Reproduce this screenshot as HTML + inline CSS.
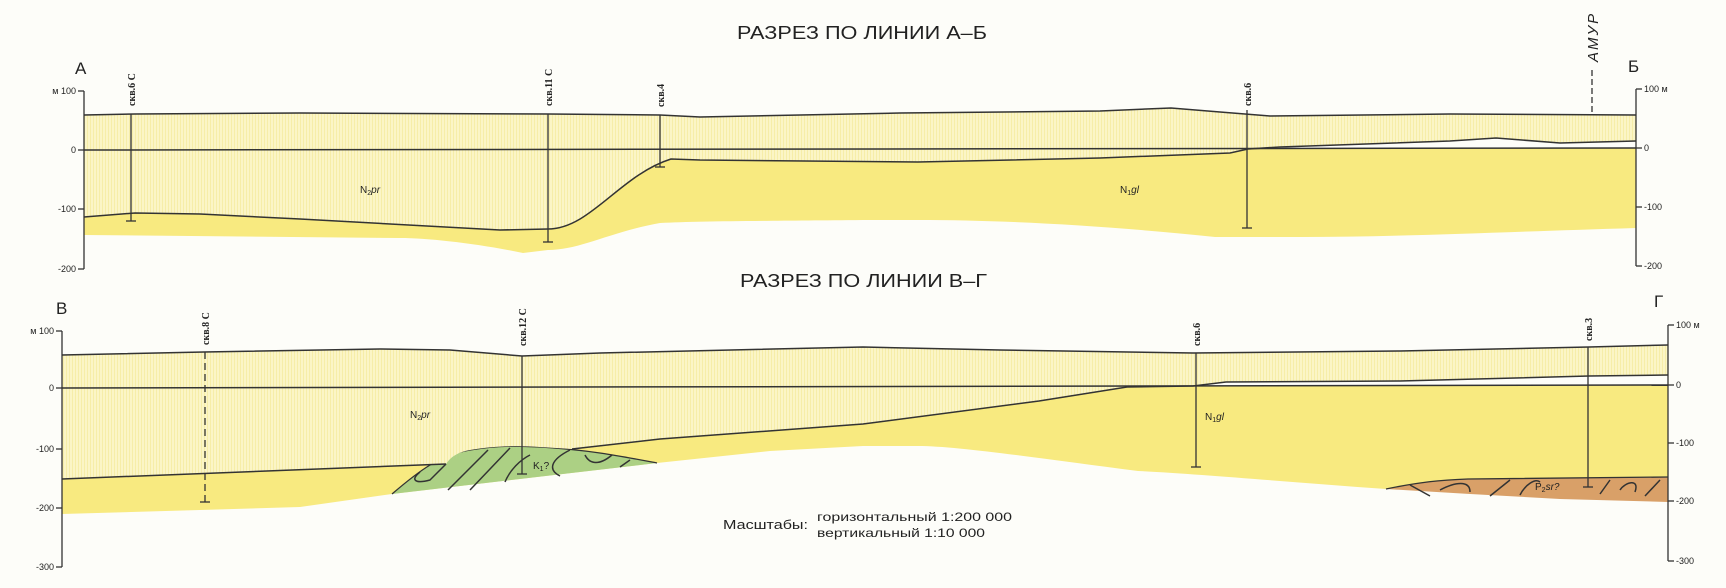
<!DOCTYPE html>
<html><head><meta charset="utf-8"><style>
html,body{margin:0;padding:0;background:#fdfdf9}
svg{display:block}
.t{font-family:"Liberation Sans",sans-serif;font-size:9px;fill:#222}
.w{font-family:"Liberation Serif",serif;font-size:10px;font-weight:bold;fill:#222}
.ln{fill:none;stroke:#333;stroke-width:1.5}
</style></head><body>
<svg width="1726" height="588" viewBox="0 0 1726 588" xmlns="http://www.w3.org/2000/svg">
<defs>
<pattern id="st" width="3" height="10" patternUnits="userSpaceOnUse">
<rect width="3" height="10" fill="#fbf5c6"/><rect width="1" height="10" fill="#f6eda8"/>
</pattern>
</defs>
<rect width="1726" height="588" fill="#fdfdf9"/>
<!-- TOP SECTION -->
<text x="737" y="39" font-family="Liberation Sans,sans-serif" font-size="18" fill="#222" textLength="250" lengthAdjust="spacingAndGlyphs">РАЗРЕЗ ПО ЛИНИИ А–Б</text>
<path d="M84,150 L1636,148 L1636,228 C1500,232 1400,237 1300,237 L1215,237 C1100,225 1000,220 918,220 L863,220 C760,221 700,221 660,223 C610,232 580,250 548,250 L523,253 C480,244 430,238 400,238 L84,235 Z" fill="#f8ea80"/>
<path d="M84,115 L135,114 L300,113 L548,114 L660,115 L700,117 L900,113 L1100,111 L1171,108 L1220,112 L1270,116 L1450,114 L1632,115 L1636,115 L1636,141 L1560,143 L1496,138 L1450,141 L1280,147 L1248,149 L1230,153 L1100,158 L918,162 L700,160 L671,159 C620,175 590,229 548,229 L500,230 L300,219 L200,214 L135,213 L84,217 Z" fill="url(#st)"/>
<path class="ln" d="M84,115 L135,114 L300,113 L548,114 L660,115 L700,117 L900,113 L1100,111 L1171,108 L1220,112 L1270,116 L1450,114 L1636,115"/>
<path class="ln" d="M84,217 L135,213 L200,214 L300,219 L500,230 L548,229 C590,229 620,175 671,159 L700,160 L918,162 L1100,158 L1230,153 L1248,149 L1280,147 L1450,141 L1496,138 L1560,143 L1636,141"/>
<line class="ln" x1="84" y1="150" x2="1636" y2="148"/>
<g stroke="#333" stroke-width="1.3">
<line x1="84" y1="91" x2="84" y2="269"/>
<line x1="78" y1="91" x2="84" y2="91"/><line x1="78" y1="150" x2="84" y2="150"/><line x1="78" y1="209" x2="84" y2="209"/><line x1="78" y1="269" x2="84" y2="269"/>
<line x1="1636" y1="89" x2="1636" y2="266"/>
<line x1="1636" y1="89" x2="1642" y2="89"/><line x1="1636" y1="148" x2="1642" y2="148"/><line x1="1636" y1="207" x2="1642" y2="207"/><line x1="1636" y1="266" x2="1642" y2="266"/>
</g>
<text class="t" x="76" y="94" text-anchor="end">м 100</text>
<text class="t" x="76" y="153" text-anchor="end">0</text>
<text class="t" x="76" y="212" text-anchor="end">-100</text>
<text class="t" x="76" y="272" text-anchor="end">-200</text>
<text class="t" x="1644" y="92">100 м</text>
<text class="t" x="1644" y="151">0</text>
<text class="t" x="1644" y="210">-100</text>
<text class="t" x="1644" y="269">-200</text>
<text x="75" y="74" font-family="Liberation Sans,sans-serif" font-size="17" fill="#222">А</text>
<text x="1628" y="72" font-family="Liberation Sans,sans-serif" font-size="17" fill="#222">Б</text>
<g stroke="#333" stroke-width="1.3">
<line x1="131" y1="114" x2="131" y2="221"/><line x1="126" y1="221" x2="136" y2="221"/>
<line x1="548" y1="114" x2="548" y2="242"/><line x1="543" y1="242" x2="553" y2="242"/>
<line x1="660" y1="115" x2="660" y2="167"/><line x1="655" y1="167" x2="665" y2="167"/>
<line x1="1247" y1="110" x2="1247" y2="228"/><line x1="1242" y1="228" x2="1252" y2="228"/>
<line x1="1592" y1="70" x2="1592" y2="115" stroke-dasharray="6,3"/>
</g>
<text class="w" transform="translate(135,106) rotate(-90)">скв.6 С</text>
<text class="w" transform="translate(552,106) rotate(-90)">скв.11 С</text>
<text class="w" transform="translate(664,107) rotate(-90)">скв.4</text>
<text class="w" transform="translate(1251,106) rotate(-90)">скв.6</text>
<text transform="translate(1598,62) rotate(-90)" font-family="Liberation Sans,sans-serif" font-size="15" font-style="italic" fill="#222" letter-spacing="2">АМУР</text>
<text x="360" y="193" font-family="Liberation Sans,sans-serif" font-size="10" fill="#222">N<tspan font-size="7" dy="2">2</tspan><tspan dy="-2" font-style="italic">pr</tspan></text>
<text x="1120" y="193" font-family="Liberation Sans,sans-serif" font-size="10" fill="#222">N<tspan font-size="7" dy="2">1</tspan><tspan dy="-2" font-style="italic">gl</tspan></text>

<!-- BOTTOM SECTION -->
<text x="740" y="287" font-family="Liberation Sans,sans-serif" font-size="18" fill="#222" textLength="247" lengthAdjust="spacingAndGlyphs">РАЗРЕЗ ПО ЛИНИИ В–Г</text>
<path d="M62,388 L1668,385 L1668,477 L1468,479 L1386,489 C1300,483 1200,474 1138,471 C1050,460 960,446 918,446 L863,446 L770,451 L657,463 L580,472 L392,494 L300,507 L200,510 L62,514 Z" fill="#f8ea80"/>
<path d="M1386,489 C1420,482 1440,480 1468,479 L1668,477 L1668,502 L1560,499 L1470,494 Z" fill="#d9a068"/>
<g class="ln" stroke-width="1">
<path d="M1386,489 C1420,482 1440,480 1468,479 L1668,477" stroke-width="1.3"/>
<path d="M1410,485 L1430,496 M1440,490 C1455,482 1470,480 1470,492 M1490,496 L1510,480 M1520,495 C1525,485 1535,478 1540,482 M1600,494 L1610,480 M1620,490 C1625,482 1640,478 1635,492 M1645,496 L1660,480"/>
</g>
<path d="M392,494 C420,470 440,455 470,450 C500,445 520,446 540,447 C590,450 620,456 657,463 L580,472 Z" fill="#acd084"/>
<g class="ln" stroke-width="1">
<path d="M392,494 C420,470 440,455 470,450 C500,445 520,446 540,447 C590,450 620,456 657,463" stroke-width="1.3"/>
<path d="M420,472 C410,480 415,484 430,480 L446,464 M448,490 L488,450 M470,490 L510,448 M505,482 C510,470 520,460 530,455 M560,476 C548,470 550,460 570,450 M585,455 C590,465 600,465 612,455 M620,467 L630,460"/>
</g>
<path d="M62,355 L204,352 L380,349 L450,350 L522,356 L600,353 L863,347 L1000,350 L1193,353 L1400,351 L1589,347 L1668,345 L1668,375 L1589,376 L1400,381 L1226,382 L1193,386 L1127,387 L1039,401 L863,424 L660,439 L572,449 L540,447 C520,446 500,445 470,450 C460,452 452,455 446,464 L62,479 Z" fill="url(#st)"/>
<path class="ln" d="M62,355 L204,352 L380,349 L450,350 L522,356 L600,353 L863,347 L1000,350 L1193,353 L1400,351 L1589,347 L1668,345"/>
<path class="ln" d="M62,479 L446,464"/>
<path class="ln" d="M572,449 L660,439 L863,424 L1039,401 L1127,387 L1193,386 L1226,382 L1400,381 L1589,376 L1668,375"/>
<line class="ln" x1="62" y1="388" x2="1668" y2="385"/>
<g stroke="#333" stroke-width="1.3">
<line x1="62" y1="331" x2="62" y2="567"/>
<line x1="56" y1="331" x2="62" y2="331"/><line x1="56" y1="388" x2="62" y2="388"/><line x1="56" y1="449" x2="62" y2="449"/><line x1="56" y1="508" x2="62" y2="508"/><line x1="56" y1="567" x2="62" y2="567"/>
<line x1="1668" y1="325" x2="1668" y2="561"/>
<line x1="1668" y1="325" x2="1674" y2="325"/><line x1="1668" y1="385" x2="1674" y2="385"/><line x1="1668" y1="443" x2="1674" y2="443"/><line x1="1668" y1="501" x2="1674" y2="501"/><line x1="1668" y1="561" x2="1674" y2="561"/>
</g>
<text class="t" x="54" y="334" text-anchor="end">м 100</text>
<text class="t" x="54" y="391" text-anchor="end">0</text>
<text class="t" x="54" y="452" text-anchor="end">-100</text>
<text class="t" x="54" y="511" text-anchor="end">-200</text>
<text class="t" x="54" y="570" text-anchor="end">-300</text>
<text class="t" x="1676" y="328">100 м</text>
<text class="t" x="1676" y="388">0</text>
<text class="t" x="1676" y="446">-100</text>
<text class="t" x="1676" y="504">-200</text>
<text class="t" x="1676" y="564">-300</text>
<text x="56" y="314" font-family="Liberation Sans,sans-serif" font-size="17" fill="#222">В</text>
<text x="1654" y="307" font-family="Liberation Sans,sans-serif" font-size="17" fill="#222">Г</text>
<g stroke="#333" stroke-width="1.3">
<line x1="205" y1="352" x2="205" y2="502" stroke-dasharray="7,4"/><line x1="200" y1="502" x2="210" y2="502"/>
<line x1="522" y1="356" x2="522" y2="474"/><line x1="517" y1="474" x2="527" y2="474"/>
<line x1="1196" y1="353" x2="1196" y2="467"/><line x1="1191" y1="467" x2="1201" y2="467"/>
<line x1="1588" y1="347" x2="1588" y2="487"/><line x1="1583" y1="487" x2="1593" y2="487"/>
</g>
<text class="w" transform="translate(209,345) rotate(-90)">скв.8 С</text>
<text class="w" transform="translate(526,346) rotate(-90)">скв.12 С</text>
<text class="w" transform="translate(1200,346) rotate(-90)">скв.6</text>
<text class="w" transform="translate(1592,341) rotate(-90)">скв.3</text>
<text x="410" y="418" font-family="Liberation Sans,sans-serif" font-size="10" fill="#222">N<tspan font-size="7" dy="2">2</tspan><tspan dy="-2" font-style="italic">pr</tspan></text>
<text x="1205" y="420" font-family="Liberation Sans,sans-serif" font-size="10" fill="#222">N<tspan font-size="7" dy="2">1</tspan><tspan dy="-2" font-style="italic">gl</tspan></text>
<text x="533" y="469" font-family="Liberation Sans,sans-serif" font-size="10" fill="#222">K<tspan font-size="7" dy="2">1</tspan><tspan dy="-2">?</tspan></text>
<text x="1535" y="490" font-family="Liberation Sans,sans-serif" font-size="10" fill="#222">P<tspan font-size="7" dy="2">2</tspan><tspan dy="-2" font-style="italic">sr?</tspan></text>
<text x="723" y="529" font-family="Liberation Sans,sans-serif" font-size="13" fill="#222" textLength="85" lengthAdjust="spacingAndGlyphs">Масштабы:</text>
<text x="817" y="521" font-family="Liberation Sans,sans-serif" font-size="12" fill="#222" textLength="195" lengthAdjust="spacingAndGlyphs">горизонтальный 1:200 000</text>
<text x="817" y="537" font-family="Liberation Sans,sans-serif" font-size="12" fill="#222" textLength="168" lengthAdjust="spacingAndGlyphs">вертикальный 1:10 000</text>
</svg>
</body></html>
